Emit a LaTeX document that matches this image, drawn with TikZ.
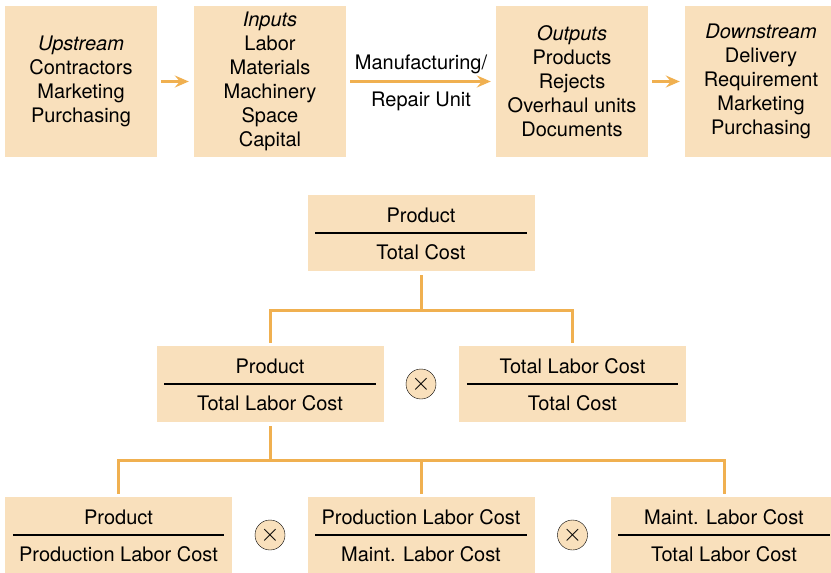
\documentclass[tikz,border=0pt]{standalone}
\usepackage{fontspec}
\setmainfont{TeX Gyre Heros}
\usetikzlibrary{arrows.meta}
\definecolor{peach}{RGB}{249,224,188}
\definecolor{linkorange}{RGB}{240,176,80}
\tikzset{
	stage/.style={fill=peach, minimum width=152pt, minimum height=151pt, inner sep=0pt, align=center, font=\fontsize{20}{24}\selectfont},
	ratio/.style={fill=peach, minimum width=227pt, minimum height=76pt, inner sep=0pt},
	term/.style={inner sep=0pt, text height=14.4pt, text depth=0pt, font=\fontsize{20}{24}\selectfont},
	times/.style={circle, draw, thin, fill=peach, minimum size=30pt, inner sep=0pt, font=\fontsize{24.88}{26}\selectfont},
	flow/.style={draw=linkorange, line width=3.5pt, -{Stealth[length=14pt,width=12pt,inset=5pt]}, shorten <=4pt, shorten >=5pt},
	link/.style={draw=linkorange, line width=3pt},
}
\newcommand{\ratiobox}[5]{%
	\node[ratio] (#1) at (#2,#3) {};
	\node[term] (#1-num) at ([yshift=18pt]#1.center) {#4};
	\node[term] (#1-den) at ([yshift=-19pt]#1.center) {#5};
	\draw[line width=2.5pt] ([xshift=8pt]#1.west) -- ([xshift=-8pt]#1.east);
}

\begin{document}
\begin{tikzpicture}[x=1pt, y=-1pt]
	\useasboundingbox (0,0) rectangle (831,573);
	\node[stage] (upstream) at (81,81.5) {\textit{Upstream}\\Contractors\\Marketing\\Purchasing};
	\node[stage] (inputs) at (270,81.5) {\textit{Inputs}\\Labor\\Materials\\Machinery\\Space\\Capital};
	\node[stage] (outputs) at (572,81.5) {\textit{Outputs}\\Products\\Rejects\\Overhaul units\\Documents};
	\node[stage] (downstream) at (761,81.5) {\textit{Downstream}\\Delivery\\Requirement\\Marketing\\Purchasing};
	\draw[flow] (upstream) -- (inputs);
	\draw[flow] (inputs) -- node[term, above=10pt] (mfg) {Manufacturing/} node[term, below=9pt] (repair) {Repair Unit} (outputs);
	\draw[flow] (outputs) -- (downstream);

	\ratiobox{total}{421}{233}{Product}{Total Cost}
	\ratiobox{labor}{270}{384}{Product}{Total Labor Cost}
	\ratiobox{share}{572.5}{384}{Total Labor Cost}{Total Cost}
	\node[times] (times1) at (421,384) {$\times$};
	\ratiobox{prod}{118.5}{535}{Product}{Production Labor Cost}
	\ratiobox{maint}{421}{535}{Production Labor Cost}{Maint. Labor Cost}
	\ratiobox{mix}{724}{535}{Maint. Labor Cost}{Total Labor Cost}
	\node[times] (times2) at (270,535) {$\times$};
	\node[times] (times3) at (572.5,535) {$\times$};

	\coordinate (split1) at (421,310);
	\coordinate (split2) at (270,460);
	\draw[link] ([yshift=-4pt]total.south) -- (split1);
	\draw[link] ([yshift=3pt]labor.north) |- (split1) -| ([yshift=3pt]share.north);
	\draw[link] ([yshift=-4pt]labor.south) -- (split2);
	\draw[link] ([yshift=3pt]prod.north) |- (split2) -| ([yshift=3pt]mix.north);
	\draw[link] ([yshift=3pt]maint.north) -- (maint.north |- split2);
\end{tikzpicture}
\end{document}
